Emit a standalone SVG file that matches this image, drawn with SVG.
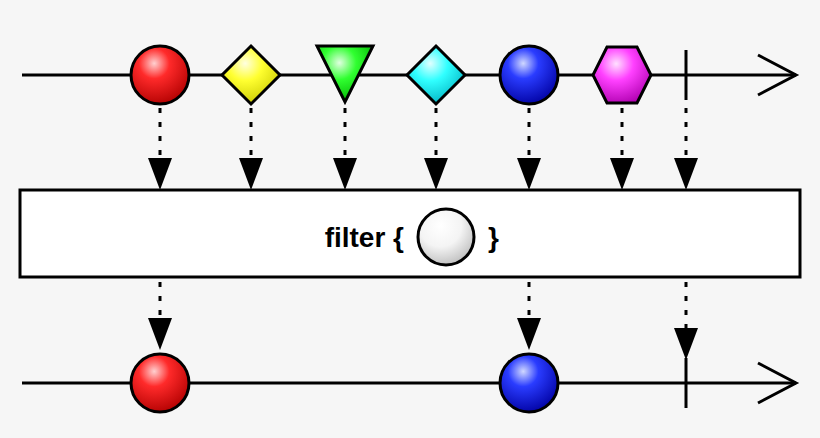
<svg xmlns="http://www.w3.org/2000/svg" width="820" height="438" viewBox="0 0 820 438">
<defs>
<radialGradient id="gr" cx="0.4" cy="0.3" r="0.75"><stop offset="0" stop-color="#ffd0d0"/><stop offset="0.35" stop-color="#ff2a2a"/><stop offset="1" stop-color="#b00000"/></radialGradient>
<radialGradient id="gb" cx="0.4" cy="0.3" r="0.75"><stop offset="0" stop-color="#d0d8ff"/><stop offset="0.35" stop-color="#2a3cff"/><stop offset="1" stop-color="#0000a0"/></radialGradient>
<radialGradient id="gy" cx="0.4" cy="0.3" r="0.75"><stop offset="0" stop-color="#ffffe0"/><stop offset="0.4" stop-color="#ffff30"/><stop offset="1" stop-color="#c8c800"/></radialGradient>
<radialGradient id="gg" cx="0.4" cy="0.3" r="0.75"><stop offset="0" stop-color="#e0ffe0"/><stop offset="0.4" stop-color="#30ff30"/><stop offset="1" stop-color="#00b000"/></radialGradient>
<radialGradient id="gc" cx="0.4" cy="0.3" r="0.75"><stop offset="0" stop-color="#e0ffff"/><stop offset="0.4" stop-color="#30ffff"/><stop offset="1" stop-color="#00b0c0"/></radialGradient>
<radialGradient id="gm" cx="0.4" cy="0.3" r="0.75"><stop offset="0" stop-color="#ffe0ff"/><stop offset="0.4" stop-color="#ff40ff"/><stop offset="1" stop-color="#b000b0"/></radialGradient>
<radialGradient id="gw" cx="0.4" cy="0.3" r="0.75"><stop offset="0" stop-color="#ffffff"/><stop offset="0.5" stop-color="#f4f4f4"/><stop offset="1" stop-color="#bbbbbb"/></radialGradient>
</defs>
<style>
.ln{stroke:#000;stroke-width:3;fill:none}
.sh{stroke:#000;stroke-width:3}
.d{stroke:#000;stroke-width:3;stroke-dasharray:5 9;fill:none}
.hd{fill:#000}
.t{font-family:"Liberation Sans",Arial,sans-serif;font-weight:bold;font-size:28px}
</style>
<rect width="820" height="438" fill="#f6f6f6"/>
<g id="connectors">
<line class="ln" x1="22" y1="75" x2="796" y2="75"/>
<polyline class="ln" points="758,55 796,75 758,95"/>
<line class="ln" x1="22" y1="383" x2="796" y2="383"/>
<polyline class="ln" points="758,363 796,383 758,403"/>
<g id="top-arrows">
<line class="d" x1="160" y1="108" x2="160" y2="160"/><path class="hd" d="M148,158 L172,158 L160,190 Z"/>
<line class="d" x1="251" y1="108" x2="251" y2="160"/><path class="hd" d="M239,158 L263,158 L251,190 Z"/>
<line class="d" x1="345" y1="108" x2="345" y2="160"/><path class="hd" d="M333,158 L357,158 L345,190 Z"/>
<line class="d" x1="436" y1="108" x2="436" y2="160"/><path class="hd" d="M424,158 L448,158 L436,190 Z"/>
<line class="d" x1="529" y1="108" x2="529" y2="160"/><path class="hd" d="M517,158 L541,158 L529,190 Z"/>
<line class="d" x1="622" y1="108" x2="622" y2="160"/><path class="hd" d="M610,158 L634,158 L622,190 Z"/>
<line class="d" x1="686" y1="108" x2="686" y2="160"/><path class="hd" d="M674,158 L698,158 L686,190 Z"/>
</g>
<g id="bottom-arrows">
<line class="d" x1="160" y1="282" x2="160" y2="320"/><path class="hd" d="M148,318 L172,318 L160,350 Z"/>
<line class="d" x1="529" y1="282" x2="529" y2="320"/><path class="hd" d="M517,318 L541,318 L529,350 Z"/>
<line class="d" x1="686" y1="282" x2="686" y2="330"/><path class="hd" d="M674,328 L698,328 L686,360 Z"/>
</g>
</g>
<g id="src-red"><circle class="sh" cx="160" cy="75" r="29" fill="url(#gr)"/></g>
<g id="src-yellow"><path class="sh" d="M251,46 L280,75 L251,104 L222,75 Z" fill="url(#gy)"/></g>
<g id="src-green"><path class="sh" d="M317,46 L373,46 L345,102 Z" fill="url(#gg)"/></g>
<g id="src-cyan"><path class="sh" d="M436,46 L465,75 L436,104 L407,75 Z" fill="url(#gc)"/></g>
<g id="src-blue"><circle class="sh" cx="529" cy="75" r="29" fill="url(#gb)"/></g>
<g id="src-magenta"><path class="sh" d="M607,47 L637,47 L651,75 L637,103 L607,103 L593,75 Z" fill="url(#gm)"/></g>
<g id="src-complete"><line class="ln" x1="686" y1="50" x2="686" y2="100"/></g>
<g id="filter-box">
<rect x="20" y="190" width="780" height="87" fill="#fff" stroke="#000" stroke-width="3"/>
<text class="t" x="404" y="247" text-anchor="end">filter {</text>
<circle class="sh" cx="446" cy="237" r="28" fill="url(#gw)"/>
<text class="t" x="488" y="247">}</text>
</g>
<g id="out-red"><circle class="sh" cx="160" cy="383" r="29" fill="url(#gr)"/></g>
<g id="out-blue"><circle class="sh" cx="529" cy="383" r="29" fill="url(#gb)"/></g>
<g id="out-complete"><line class="ln" x1="686" y1="358" x2="686" y2="408"/></g>
</svg>
